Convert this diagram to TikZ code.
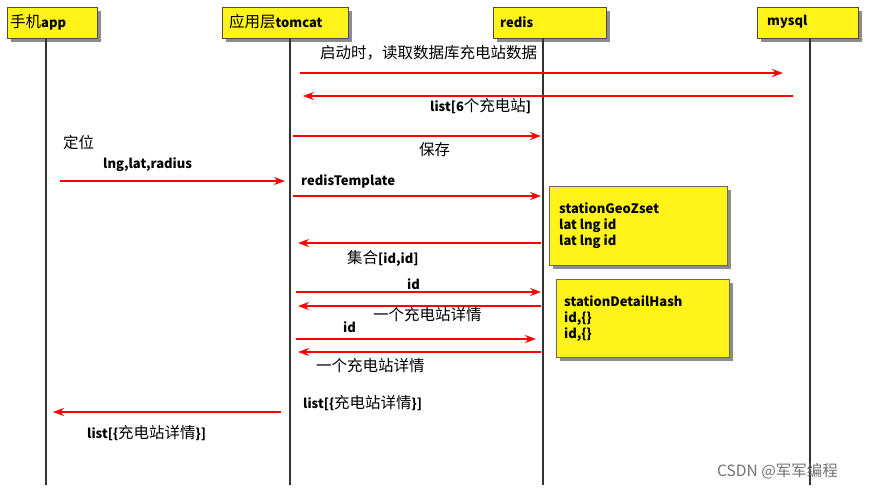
\documentclass[tikz,border=0pt]{standalone}
\usepackage{fontspec}
\setmainfont{Noto Sans CJK SC}
\newcommand{\zh}[1]{{\mdseries\fontsize{15.5}{16}\selectfont #1}}
\usetikzlibrary{arrows.meta}
\begin{document}
\begin{tikzpicture}[x=1pt,y=-1pt,
 box/.style={draw=black!70,fill=yellow!90!white,minimum height=31pt,anchor=north west,inner sep=0pt},
 note/.style={draw=black!60,fill=yellow!90!white,anchor=north west,inner sep=0pt},
 life/.style={line width=1.6pt,black!80},
 msg/.style={red,line width=1.3pt,-{Stealth[length=11pt,width=8pt]}},
 lab/.style={anchor=west,inner sep=0pt,font=\bfseries\fontsize{13}{16}\selectfont}]
\fill[white] (0,0) rectangle (869,491);
\useasboundingbox (0,0) rectangle (869,491);
\foreach \x/\y/\w in {7/7/90,222/7/126,493/7/113,757/7/101}{\fill[black!45] (\x+4,\y+4) rectangle ++(\w,31);}
\node[box,minimum width=90pt] (app) at (7,7) {};
\node[box,minimum width=126pt] (tc) at (222,7) {};
\node[box,minimum width=113pt] (rd) at (493,7) {};
\node[box,minimum width=101pt] (my) at (757,7) {};
\node[lab] at (10,22) {\zh{手机}app};
\node[lab] at (229,22) {\zh{应用层}tomcat};
\node[lab] at (500,22) {redis};
\node[lab] at (767,22) {mysql};
\coordinate (a0) at (46,38); \coordinate (a1) at (46,485);
\coordinate (t0) at (290,38); \coordinate (t1) at (290,485);
\coordinate (r0) at (543,38); \coordinate (r1) at (543,485);
\coordinate (m0) at (810,38); \coordinate (m1) at (810,485);
\draw[life] (a0)--(a1); \draw[life] (t0)--(t1); \draw[life] (r0)--(r1); \draw[life] (m0)--(m1);
\fill[black!45] (553,190) rectangle (731,269);
\node[note,minimum width=178pt,minimum height=79pt] (geo) at (549,186) {};
\node[lab,align=left] at (559,226) {stationGeoZset\\lat lng id\\lat lng id};
\fill[black!45] (560,283) rectangle (733,361);
\node[note,minimum width=173pt,minimum height=78pt] (hash) at (556,279) {};
\node[lab,align=left] at (564,319) {stationDetailHash\\id,\{\}\\id,\{\}};
\coordinate (p1a) at (300,73); \coordinate (p1b) at (783,73);
\draw[msg] (p1a)--(p1b); \node[lab] at (320,53) {\zh{启动时，读取数据库充电站数据}};
\coordinate (p2a) at (793,96); \coordinate (p2b) at (303,96);
\draw[msg] (p2a)--(p2b); \node[lab] at (430,106) {list[6\zh{个充电站}]};
\coordinate (p3a) at (293,136); \coordinate (p3b) at (541,136);
\draw[msg] (p3a)--(p3b); \node[lab] at (419,150) {\zh{保存}};
\coordinate (p4a) at (60,181); \coordinate (p4b) at (285,181);
\draw[msg] (p4a)--(p4b); \node[lab] at (63,143) {\zh{定位}}; \node[lab] at (103,165) {lng,lat,radius};
\coordinate (p5a) at (293,196); \coordinate (p5b) at (541,196);
\draw[msg] (p5a)--(p5b); \node[lab] at (301,181) {redisTemplate};
\coordinate (p6a) at (541,243); \coordinate (p6b) at (298,243);
\draw[msg] (p6a)--(p6b); \node[lab] at (347,258) {\zh{集合}[id,id]};
\coordinate (p7a) at (296,292); \coordinate (p7b) at (541,292);
\draw[msg] (p7a)--(p7b); \node[lab] at (407,284) {id};
\coordinate (p8a) at (541,306); \coordinate (p8b) at (298,306);
\draw[msg] (p8a)--(p8b); \node[lab] at (373,315) {\zh{一个充电站详情}};
\coordinate (p9a) at (296,339); \coordinate (p9b) at (536,339);
\draw[msg] (p9a)--(p9b); \node[lab] at (343,327) {id};
\coordinate (p10a) at (541,352); \coordinate (p10b) at (298,352);
\draw[msg] (p10a)--(p10b); \node[lab] at (316,366) {\zh{一个充电站详情}};
\coordinate (p11a) at (281,412); \coordinate (p11b) at (53,412);
\draw[msg] (p11a)--(p11b); \node[lab] at (303,403) {list[\{\zh{充电站详情}\}]}; \node[lab] at (87,433) {list[\{\zh{充电站详情}\}]};
\node[anchor=west,inner sep=0pt,black!55,font=\fontsize{15.5}{17}\selectfont] at (717,471) {CSDN @军军编程};
\end{tikzpicture}
\end{document}
